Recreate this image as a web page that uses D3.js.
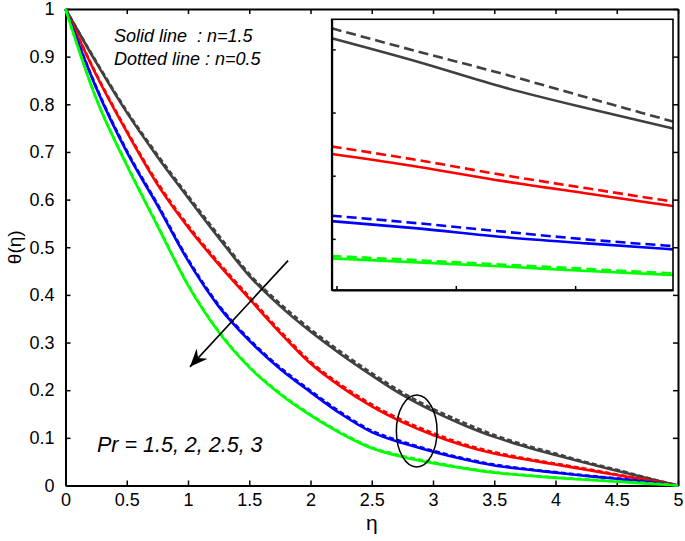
<!DOCTYPE html>
<html>
<head>
<meta charset="utf-8">
<script src="https://cdn.jsdelivr.net/npm/d3@7"></script>
<style>
  body { margin: 0; background: #fff; }
  text { font-family: "Liberation Sans Narrow", "Arial Narrow", "Liberation Sans", Arial, sans-serif; }
  .ital { font-family: "Liberation Sans", Arial, sans-serif; font-style: italic; white-space: pre; }
</style>
</head>
<body>
<div id="chart-area"></div>
<script>
// eta grid
var eta = [0, 0.25, 0.5, 0.75, 1, 1.25, 1.5, 1.75, 2, 2.25, 2.5, 2.75, 3, 3.25, 3.5, 3.75, 4, 4.25, 4.5, 4.75, 5];

// solid lines, n = 1.5
var grayN15  = [1, 0.888, 0.783, 0.690, 0.604, 0.520, 0.440, 0.377, 0.323, 0.275, 0.231, 0.190, 0.156, 0.127, 0.102, 0.082, 0.064, 0.047, 0.031, 0.015, 0];
var redN15   = [1, 0.862, 0.742, 0.632, 0.542, 0.464, 0.392, 0.321, 0.256, 0.207, 0.166, 0.133, 0.106, 0.084, 0.067, 0.055, 0.044, 0.033, 0.022, 0.011, 0];
var blueN15  = [1, 0.835, 0.700, 0.588, 0.472, 0.376, 0.304, 0.245, 0.196, 0.150, 0.112, 0.089, 0.071, 0.055, 0.042, 0.034, 0.027, 0.020, 0.014, 0.007, 0];
var greenN15 = [1, 0.812, 0.672, 0.545, 0.420, 0.322, 0.248, 0.192, 0.147, 0.109, 0.078, 0.060, 0.047, 0.036, 0.027, 0.021, 0.016, 0.012, 0.008, 0.004, 0];

// dotted lines, n = 0.5
var grayN05  = [1, 0.890, 0.786, 0.694, 0.608, 0.525, 0.444, 0.382, 0.328, 0.280, 0.236, 0.195, 0.161, 0.132, 0.106, 0.085, 0.067, 0.049, 0.033, 0.016, 0];
var redN05   = [1, 0.864, 0.745, 0.636, 0.546, 0.468, 0.396, 0.325, 0.260, 0.211, 0.170, 0.137, 0.110, 0.087, 0.070, 0.057, 0.046, 0.035, 0.023, 0.012, 0];
var blueN05  = [1, 0.837, 0.703, 0.591, 0.475, 0.379, 0.307, 0.248, 0.199, 0.153, 0.115, 0.092, 0.073, 0.057, 0.044, 0.035, 0.028, 0.021, 0.015, 0.008, 0];
var greenN05 = [1, 0.813, 0.674, 0.547, 0.422, 0.324, 0.250, 0.194, 0.149, 0.111, 0.080, 0.062, 0.049, 0.037, 0.028, 0.022, 0.017, 0.013, 0.009, 0.005, 0];

// inset (zoom of the circled region)
var insetEta   = [2.8, 2.836, 2.872, 2.907, 2.943];
var insGrayN15  = [0.1237, 0.1159, 0.1074, 0.1004, 0.0937];
var insGrayN05  = [0.1270, 0.1193, 0.1118, 0.1040, 0.0960];
var insRedN15   = [0.0852, 0.0810, 0.0762, 0.0721, 0.0679];
var insRedN05   = [0.0877, 0.0832, 0.0782, 0.0738, 0.0694];
var insBlueN15  = [0.0629, 0.0605, 0.0576, 0.0555, 0.0535];
var insBlueN05  = [0.0647, 0.0622, 0.0594, 0.0568, 0.0546];
var insGreenN15 = [0.0505, 0.0492, 0.0478, 0.0463, 0.0450];
var insGreenN05 = [0.0513, 0.0499, 0.0484, 0.0470, 0.0455];
var insetXTicks = [2.802, 2.852, 2.902];
var insetYTicks = [0.057, 0.078, 0.099, 0.120];

var xTicks = [0, 0.5, 1, 1.5, 2, 2.5, 3, 3.5, 4, 4.5, 5];
var yTicks = [0, 0.1, 0.2, 0.3, 0.4, 0.5, 0.6, 0.7, 0.8, 0.9, 1];

// annotation anchors in data units
var arrowFrom = [1.817, 0.472], arrowTo = [1.016, 0.249];
var ellipseC = [2.867, 0.1144], ellipseR = [0.166, 0.0755];

const colors = { gray: "#404040", red: "#ff0000", blue: "#0000ff", green: "#00ff00" };

const W = 685, H = 541;
const L = 65.5, R = 678, T = 9, B = 485.5;

const svg = d3.select("#chart-area").append("svg")
  .attr("width", W)
  .attr("height", H)

const x = d3.scaleLinear().domain([0, 5]).range([L, R])
const y = d3.scaleLinear().domain([0, 1]).range([B, T])

function styleAxis(g) {
  g.selectAll(".domain").attr("stroke", "#000").attr("stroke-width", 2)
  g.selectAll(".tick line").attr("stroke", "#000").attr("stroke-width", 1.5)
  g.selectAll("text").attr("font-size", "18px").attr("fill", "#000")
    .style("font-family", "'Liberation Sans Narrow', 'Arial Narrow', 'Liberation Sans', sans-serif")
}

// axes, ticks pointing in
svg.append("g")
  .attr("transform", `translate(0, ${B})`)
  .call(d3.axisBottom(x).tickValues(xTicks).tickFormat(d => d).tickSizeInner(-5).tickSizeOuter(0).tickPadding(8))
  .call(styleAxis)

svg.append("g")
  .attr("transform", `translate(${L}, 0)`)
  .call(d3.axisLeft(y).tickValues(yTicks).tickFormat(d => d).tickSizeInner(-5).tickSizeOuter(0).tickPadding(11))
  .call(styleAxis)

svg.append("g")
  .attr("transform", `translate(0, ${T})`)
  .call(d3.axisTop(x).tickValues(xTicks).tickFormat("").tickSizeInner(-5).tickSizeOuter(0))
  .call(styleAxis)

svg.append("g")
  .attr("transform", `translate(${R}, 0)`)
  .call(d3.axisRight(y).tickValues(yTicks).tickFormat("").tickSizeInner(-5).tickSizeOuter(0))
  .call(styleAxis)

// axis labels
svg.append("text")
  .attr("x", (L + R) / 2)
  .attr("y", 530)
  .attr("text-anchor", "middle")
  .attr("font-size", "21px")
  .text("η")

svg.append("text")
  .attr("transform", `translate(21, ${(T + B) / 2}) rotate(-90)`)
  .attr("text-anchor", "middle")
  .attr("font-size", "19px")
  .text("θ(η)")

// main curves
const line = d3.line()
  .x((d, i) => x(eta[i]))
  .y(d => y(d))
  .curve(d3.curveMonotoneX)

const series = [
  { s: grayN15, d: grayN05, c: colors.gray },
  { s: redN15, d: redN05, c: colors.red },
  { s: blueN15, d: blueN05, c: colors.blue },
  { s: greenN15, d: greenN05, c: colors.green },
]

series.forEach(function (k) {
  svg.append("path").attr("d", line(k.s))
    .attr("fill", "none").attr("stroke", k.c).attr("stroke-width", 2.6)
  svg.append("path").attr("d", line(k.d))
    .attr("fill", "none").attr("stroke", k.c).attr("stroke-width", 2.6)
    .attr("stroke-dasharray", "5,3")
})

// text notes
svg.append("text").attr("class", "ital")
  .attr("x", 114).attr("y", 42).attr("font-size", "18px")
  .text("Solid line  : n=1.5")
svg.append("text").attr("class", "ital")
  .attr("x", 114).attr("y", 65).attr("font-size", "18px")
  .text("Dotted line : n=0.5")
svg.append("text").attr("class", "ital")
  .attr("x", 97).attr("y", 452).attr("font-size", "21.5px")
  .text("Pr = 1.5, 2, 2.5, 3")

// arrow
svg.append("defs").append("marker")
  .attr("id", "head")
  .attr("viewBox", "-18 -8 20 16")
  .attr("refX", 0).attr("refY", 0)
  .attr("markerWidth", 20).attr("markerHeight", 16)
  .attr("markerUnits", "userSpaceOnUse")
  .attr("orient", "auto")
  .append("path")
  .attr("d", "M0,0 L-18,-7.5 L-12,0 L-18,7.5 Z")
  .attr("fill", "#000")

svg.append("line")
  .attr("x1", x(arrowFrom[0])).attr("y1", y(arrowFrom[1]))
  .attr("x2", x(arrowTo[0])).attr("y2", y(arrowTo[1]))
  .attr("stroke", "#000").attr("stroke-width", 1.6)
  .attr("marker-end", "url(#head)")

svg.append("ellipse")
  .attr("cx", x(ellipseC[0])).attr("cy", y(ellipseC[1]))
  .attr("rx", x(ellipseC[0] + ellipseR[0]) - x(ellipseC[0]))
  .attr("ry", y(ellipseC[1] - ellipseR[1]) - y(ellipseC[1]))
  .attr("fill", "none").attr("stroke", "#000").attr("stroke-width", 1.5)

// inset
const IL = 331.7, IR = 673, IT = 19.3, IB = 290;
const ix = d3.scaleLinear().domain([2.8, 2.943]).range([IL, IR])
const iy = d3.scaleLinear().domain([0.04, 0.13]).range([IB, IT])

const inset = svg.append("g")
inset.append("rect")
  .attr("x", IL).attr("y", IT).attr("width", IR - IL).attr("height", IB - IT)
  .attr("fill", "#fff")

inset.append("clipPath").attr("id", "iclip").append("rect")
  .attr("x", IL).attr("y", IT).attr("width", IR - IL).attr("height", IB - IT)

const iline = d3.line()
  .x((d, i) => ix(insetEta[i]))
  .y(d => iy(d))
  .curve(d3.curveMonotoneX)

const insetSeries = [
  { s: insGrayN15, d: insGrayN05, c: colors.gray },
  { s: insRedN15, d: insRedN05, c: colors.red },
  { s: insBlueN15, d: insBlueN05, c: colors.blue },
  { s: insGreenN15, d: insGreenN05, c: colors.green },
]

const ilines = inset.append("g").attr("clip-path", "url(#iclip)")
insetSeries.forEach(function (k) {
  ilines.append("path").attr("d", iline(k.s))
    .attr("fill", "none").attr("stroke", k.c).attr("stroke-width", 2.6)
  ilines.append("path").attr("d", iline(k.d))
    .attr("fill", "none").attr("stroke", k.c).attr("stroke-width", 2.6)
    .attr("stroke-dasharray", "10,5")
})

inset.append("g")
  .attr("transform", `translate(0, ${IB})`)
  .call(d3.axisBottom(ix).tickValues(insetXTicks).tickFormat("").tickSizeInner(-4).tickSizeOuter(0))
  .call(styleAxis)
inset.append("g")
  .attr("transform", `translate(${IL}, 0)`)
  .call(d3.axisLeft(iy).tickValues(insetYTicks).tickFormat("").tickSizeInner(-4).tickSizeOuter(0))
  .call(styleAxis)

inset.append("rect")
  .attr("x", IL).attr("y", IT).attr("width", IR - IL).attr("height", IB - IT)
  .attr("fill", "none").attr("stroke", "#000").attr("stroke-width", 1.6)
</script>
</body>
</html>
